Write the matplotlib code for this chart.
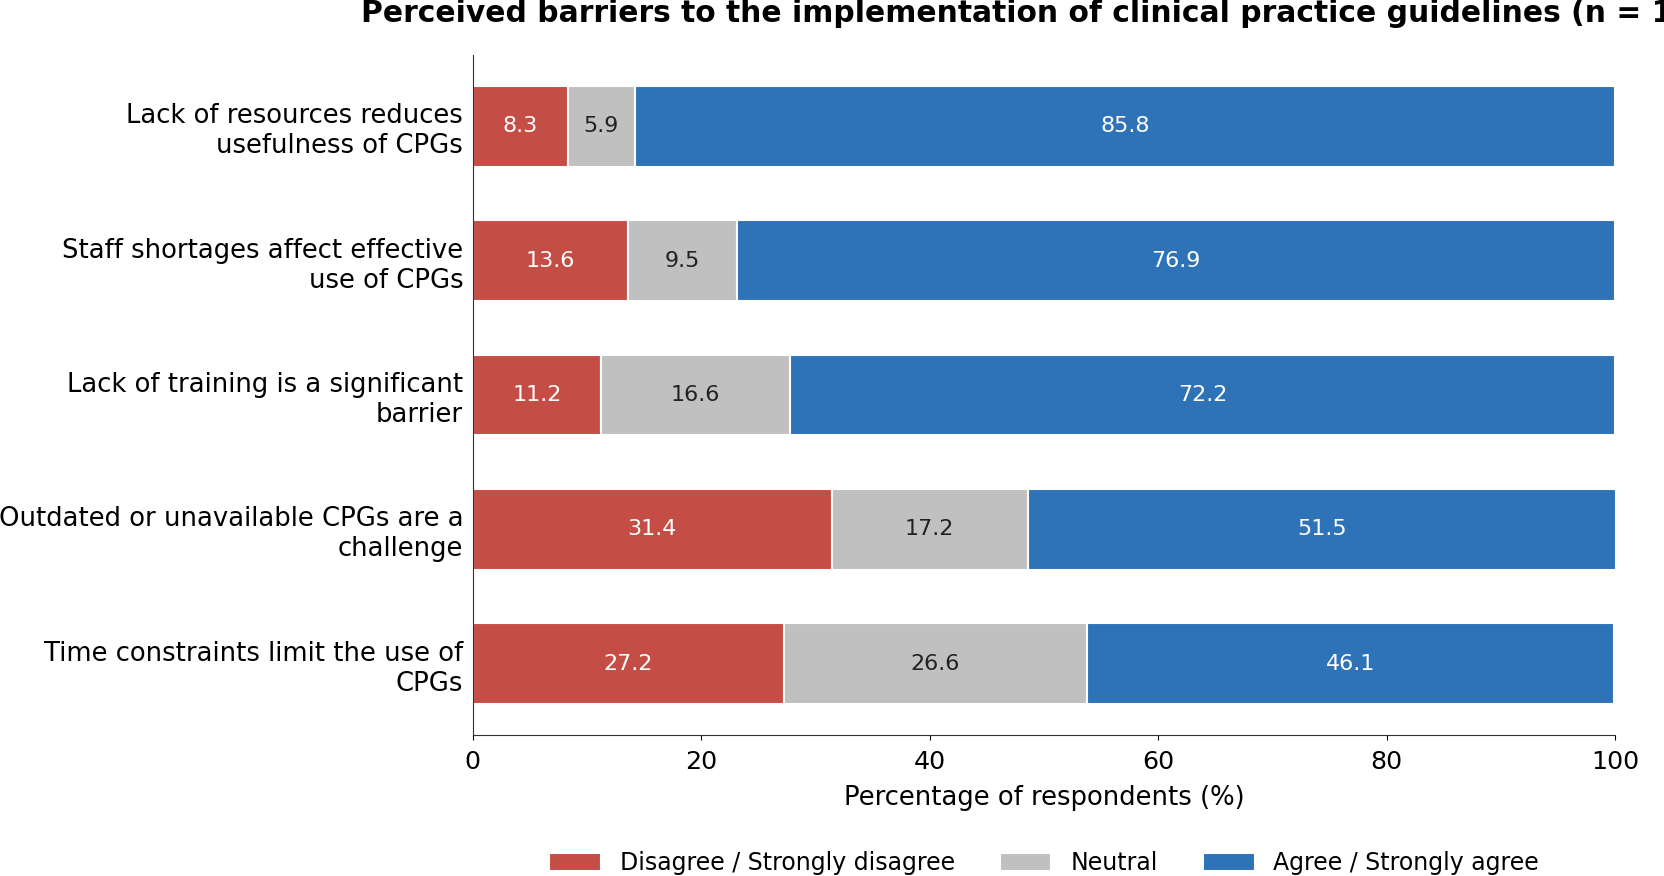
import matplotlib
matplotlib.use("Agg")
import matplotlib.pyplot as plt
import numpy as np

categories = [
    "Lack of resources reduces\nusefulness of CPGs",
    "Staff shortages affect effective\nuse of CPGs",
    "Lack of training is a significant\nbarrier",
    "Outdated or unavailable CPGs are a\nchallenge",
    "Time constraints limit the use of\nCPGs",
]
disagree = [8.3, 13.6, 11.2, 31.4, 27.2]
neutral = [5.9, 9.5, 16.6, 17.2, 26.6]
agree = [85.8, 76.9, 72.2, 51.5, 46.1]
series_names = ["Disagree / Strongly disagree", "Neutral", "Agree / Strongly agree"]
colors = ["#c44e46", "#c0c0c0", "#2e72b8"]
text_colors = ["white", "#222222", "white"]
xticks = [0, 20, 40, 60, 80, 100]

fig = plt.figure(figsize=(16.65, 8.76), dpi=100)
ax = fig.add_axes([0.284, 0.161, 0.686, 0.776])

y = np.arange(len(categories))[::-1]
left = np.zeros(len(categories))
for vals, name, c, tc in zip([disagree, neutral, agree], series_names, colors, text_colors):
    vals = np.array(vals)
    ax.barh(y, vals, left=left, height=0.6, color=c, edgecolor="white",
            linewidth=1.5, label=name)
    for yi, l, v in zip(y, left, vals):
        ax.text(l + v / 2, yi, f"{v:.1f}", ha="center", va="center",
                color=tc, fontsize=16)
    left = left + vals

ax.set_yticks(y)
ax.set_yticklabels(categories, fontsize=18.6)
ax.tick_params(axis="y", length=0, pad=7)
ax.set_xlim(0, 100)
ax.set_xticks(xticks)
ax.tick_params(axis="x", labelsize=18.3, pad=7.5)
ax.set_xlabel("Percentage of respondents (%)", fontsize=18.6, labelpad=8)
for s in ["top", "right"]:
    ax.spines[s].set_visible(False)
for s in ["left", "bottom"]:
    ax.spines[s].set_color("#333333")

ax.set_title("Perceived barriers to the implementation of clinical practice guidelines (n = 169)",
             fontsize=21.4, fontweight="bold", pad=24)

ax.legend(loc="upper center", bbox_to_anchor=(0.5, -0.14), ncol=3, frameon=False,
          fontsize=17, handlelength=2.2, handleheight=0.8, columnspacing=1.9)

fig.savefig("out.png", dpi=100)
